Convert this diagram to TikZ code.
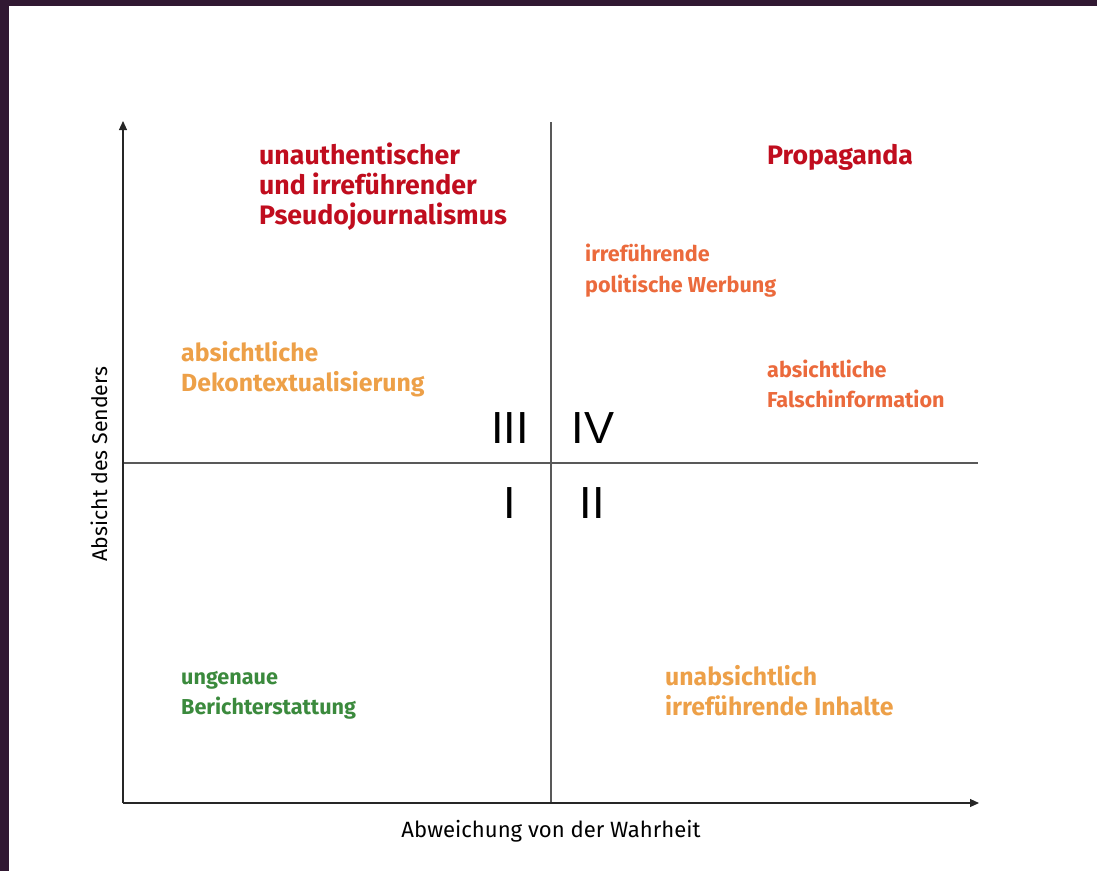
\documentclass[tikz,border=0pt]{standalone}
\usepackage{fontspec}
\setmainfont{Fira Sans}
\newfontfamily\lightfont{Liberation Sans}
\usetikzlibrary{arrows.meta}
\definecolor{frame}{HTML}{311832}
\definecolor{dred}{HTML}{C00D1E}
\definecolor{oran}{HTML}{EB6A3C}
\definecolor{lorange}{HTML}{EDA048}
\definecolor{gree}{HTML}{3B8A3D}
\tikzset{
  lbl/.style={anchor=base west, inner sep=0pt, font=\bfseries\fontsize{21.6}{24}\selectfont},
  lbll/.style={anchor=base west, inner sep=0pt, font=\bfseries\fontsize{24.8}{28}\selectfont},
  big/.style={lbl, font=\bfseries\fontsize{26.7}{30}\selectfont, text=dred},
  num/.style={anchor=base, inner sep=0pt, font=\lightfont\fontsize{45}{50}\selectfont},
  axis/.style={line width=1.1pt, draw=black!85, -{Triangle[length=9pt,width=8pt]}},
  mid/.style={line width=1.1pt, draw=black!65},
  axlbl/.style={inner sep=0pt, font=\fontsize{21.8}{24}\selectfont}
}
\begin{document}
\begin{tikzpicture}[x=1pt,y=-1pt]
\useasboundingbox (0,0) rectangle (1097,871);
\fill[frame] (0,0) rectangle (1097,6);
\fill[frame] (0,0) rectangle (9,871);
% axes
\coordinate (O) at (123,803);
\coordinate (Ytip) at (123,121);
\coordinate (Xtip) at (979,803);
\coordinate (Vt) at (551,122);
\coordinate (Vb) at (551,803);
\coordinate (Hl) at (123,463);
\coordinate (Hr) at (978,463);
\draw[mid] (Vt) -- (Vb);
\draw[mid] (Hl) -- (Hr);
\draw[axis] (O) -- (Ytip);
\draw[axis] (O) -- (Xtip);
% axis labels
\node[axlbl, anchor=base, font=\fontsize{22.1}{24}\selectfont] (xl) at (551,837) {Abweichung von der Wahrheit};
\node[axlbl, anchor=base, rotate=90, font=\fontsize{21.3}{24}\selectfont] (yl) at (107,464) {Absicht des Senders};
% quadrant numbers
\node[num] (q3) at (510,443) {III};
\node[num] (q4) at (593,443) {IV};
\node[num] (q1) at (510,518) {I};
\node[num] (q2) at (592,518) {II};
% labels
\node[big] (p1) at (259,164) {unauthentischer};
\node[big] (p2) at (259,194) {und irreführender};
\node[big] (p3) at (259,224) {Pseudojournalismus};
\node[big] (pr) at (767,164) {Propaganda};
\node[lbl, text=oran] (w1) at (585,261) {irreführende};
\node[lbl, text=oran] (w2) at (585,292) {politische Werbung};
\node[lbll, text=lorange] (d1) at (181,361) {absichtliche};
\node[lbll, text=lorange] (d2) at (181,391) {Dekontextualisierung};
\node[lbl, text=oran] (f1) at (767,377) {absichtliche};
\node[lbl, text=oran] (f2) at (767,407) {Falschinformation};
\node[lbl, text=gree] (b1) at (181,684) {ungenaue};
\node[lbl, text=gree] (b2) at (181,714) {Berichterstattung};
\node[lbll, text=lorange] (u1) at (665,685) {unabsichtlich};
\node[lbll, text=lorange] (u2) at (665,715) {irreführende Inhalte};
\end{tikzpicture}
\end{document}
